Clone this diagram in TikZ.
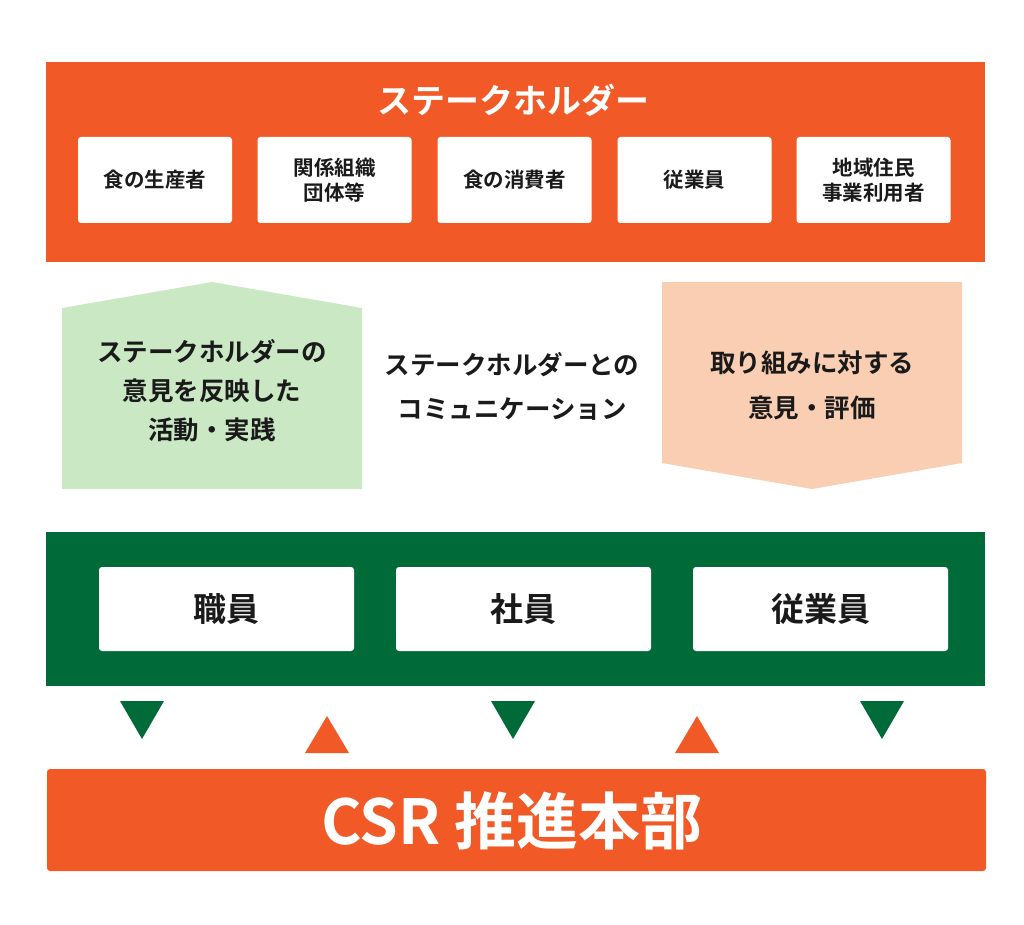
\documentclass[tikz,border=0pt]{standalone}
\usepackage{fontspec}
\setmainfont{Noto Sans CJK JP}[BoldFont={Noto Sans CJK JP Bold}]
\usepackage{xcolor}
\usepackage{tikz}
\usetikzlibrary{positioning, calc}
\definecolor{csrorange}{HTML}{F15A27}
\definecolor{csrgreen}{HTML}{006B38}
\definecolor{voicegreen}{HTML}{C9E8C3}
\definecolor{voicepeach}{HTML}{F9CEB2}
\definecolor{inktext}{HTML}{1A1A1A}

\begin{document}
\begin{tikzpicture}[
    x=1pt, y=-1pt,
    holderbox/.style={rectangle, fill=white, rounded corners=3pt, inner sep=0pt,
                      minimum width=154pt, minimum height=86pt, align=center, text=inktext,
                      font=\fontsize{20.5}{25}\selectfont\bfseries},
    staffbox/.style={rectangle, fill=white, rounded corners=3pt, inner sep=0pt,
                     minimum width=255pt, minimum height=84pt, text=inktext,
                     font=\fontsize{33}{38}\selectfont\bfseries},
    voicetext/.style={align=center, text=inktext, inner sep=0pt,
                      font=\fontsize{25.5}{#1}\selectfont\bfseries},
    downmark/.style={fill=csrgreen},
    upmark/.style={fill=csrorange},
]
    \useasboundingbox (0,0) rectangle (1024,925);

    % ── STAKEHOLDERS ──
    \fill[csrorange] (46,62) rectangle (985,262);
    \node[text=white, font=\fontsize{34}{38}\selectfont\bfseries] (title) at (513,100) {ステークホルダー};

    \node[holderbox] (food)  at (155,180) {食の生産者};
    \node[holderbox] (org)   at (334.5,180) {関係組織\\団体等};
    \node[holderbox] (cons)  at (514.5,180) {食の消費者};
    \node[holderbox] (emp)   at (694.5,180) {従業員};
    \node[holderbox] (local) at (873.5,180) {地域住民\\事業利用者};

    % ── COMMUNICATION ──
    \fill[voicegreen] (62,489) -- (62,308) -- (212,282) -- (362,308) -- (362,489) -- cycle;
    \node[voicetext=39pt] (act) at (212,391) {ステークホルダーの\\意見を反映した\\活動・実践};

    \node[voicetext=44pt] (comm) at (512,386) {ステークホルダーとの\\コミュニケーション};

    \fill[voicepeach] (662,282) -- (962,282) -- (962,463) -- (812,489) -- (662,463) -- cycle;
    \node[voicetext=45pt] (eval) at (812,385) {取り組みに対する\\意見・評価};

    % ── STAFF ──
    \fill[csrgreen] (46,532) rectangle (985,686);
    \node[staffbox] (shok) at (226.5,609) {職員};
    \node[staffbox] (shai) at (523.5,609) {社員};
    \node[staffbox] (jug)  at (820.5,609) {従業員};

    % ── CSR HQ ──
    \fill[csrorange, rounded corners=3pt] (47,769) rectangle (986,871);
    \node[text=white, font=\fontsize{62}{70}\selectfont\bfseries] (hq) at (512,821) {CSR 推進本部};

    % Markers between staff and HQ
    \fill[downmark] (120,701) -- (164,701) -- (142,739) -- cycle;
    \fill[upmark]   (305,753) -- (349,753) -- (327,716) -- cycle;
    \fill[downmark] (491,701) -- (535,701) -- (513,739) -- cycle;
    \fill[upmark]   (675,753) -- (719,753) -- (697,716) -- cycle;
    \fill[downmark] (860,701) -- (904,701) -- (882,739) -- cycle;

\end{tikzpicture}
\end{document}
